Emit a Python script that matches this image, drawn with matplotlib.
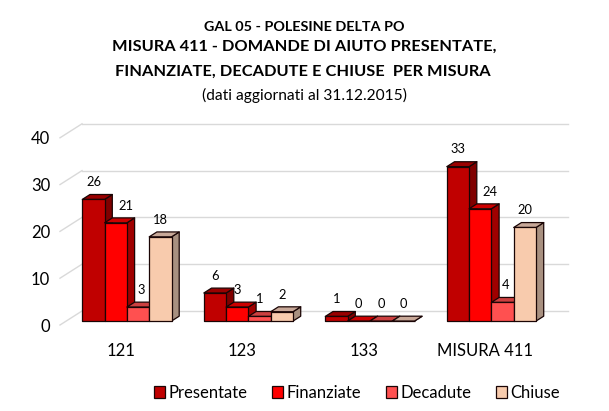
import matplotlib
matplotlib.use("Agg")
import matplotlib.pyplot as plt
from matplotlib.patches import Polygon, Rectangle, Patch
from matplotlib.lines import Line2D

categories = ["121", "123", "133", "MISURA 411"]
series_names = ["Presentate", "Finanziate", "Decadute", "Chiuse"]
presentate = [26, 6, 1, 33]
finanziate = [21, 3, 0, 24]
decadute = [3, 1, 0, 4]
chiuse = [18, 2, 0, 20]
series_values = [presentate, finanziate, decadute, chiuse]
y_ticks = [0, 10, 20, 30, 40]

title_lines = ["GAL 05 - POLESINE DELTA PO",
               "MISURA 411 - DOMANDE DI AIUTO PRESENTATE,",
               "FINANZIATE, DECADUTE E CHIUSE  PER MISURA",
               "(dati aggiornati al 31.12.2015)"]

front_cols = ["#C00000", "#FF0000", "#FF5050", "#F8CBAD"]
top_cols = ["#9A0000", "#CC0000", "#CC4040", "#C8A898"]
side_cols = ["#800000", "#A00000", "#A03030", "#A89080"]
edge = "#1A0505"

FONT = "Lato"
plt.rcParams['font.family'] = [FONT, 'DejaVu Sans']

W, H = 609, 411
fig = plt.figure(figsize=(W / 100, H / 100), dpi=100)
# front plane of the 3D box
px_left, px_right, px_y0, px_per_unit = 60, 546, 325, 4.68
ax = fig.add_axes([px_left / W, (H - px_y0) / H,
                   (px_right - px_left) / W, 40 * px_per_unit / H])
ax.set_xlim(-0.5, len(categories) - 0.5)
ax.set_ylim(0, 40)
for s in ax.spines.values():
    s.set_visible(False)

cat_px = (px_right - px_left) / len(categories)
DX = 22 / cat_px           # floor depth in data units
DY = 14 / px_per_unit
front_d, bar_d = 0.28, 0.35
bw = 22.3 / cat_px
group_w = bw * len(series_names)

grid_col = "#D9D9D9"
for v in y_ticks:
    ax.add_line(Line2D([-0.5 + DX, len(categories) - 0.5 + DX], [v + DY, v + DY],
                       color=grid_col, lw=1.0, clip_on=False, zorder=1))
    ax.add_line(Line2D([-0.5, -0.5 + DX], [v, v + DY],
                       color=grid_col, lw=1.0, clip_on=False, zorder=1))

fx, fy = front_d * DX, front_d * DY
bdx, bdy = bar_d * DX, bar_d * DY
z = 2
for i in range(len(categories)):
    for j, vals in enumerate(series_values):
        v = vals[i]
        x0 = i - group_w / 2 + j * bw + fx
        y0 = fy
        side = Polygon([(x0 + bw, y0), (x0 + bw + bdx, y0 + bdy),
                        (x0 + bw + bdx, y0 + v + bdy), (x0 + bw, y0 + v)],
                       closed=True, fc=side_cols[j], ec=edge, lw=0.9,
                       clip_on=False, zorder=z, joinstyle='round')
        top = Polygon([(x0, y0 + v), (x0 + bw, y0 + v),
                       (x0 + bw + bdx, y0 + v + bdy), (x0 + bdx, y0 + v + bdy)],
                      closed=True, fc=top_cols[j], ec=edge, lw=0.9,
                      clip_on=False, zorder=z + 0.1, joinstyle='round')
        front = Rectangle((x0, y0), bw, v, fc=front_cols[j], ec=edge, lw=0.9,
                          clip_on=False, zorder=z + 0.2, joinstyle='round')
        for p in (side, top, front):
            ax.add_patch(p)
        z += 1
        # value label (nudged right when the previous bar's side would collide)
        shift = 0
        if j > 0 and series_values[j - 1][i] - v > 4:
            shift = 10 if v >= 10 else 3
        ax.annotate(str(v), (x0 + bw / 2, y0 + v + bdy), xytext=(shift * 0.72, 4.5),
                    textcoords="offset points", ha="center", va="bottom",
                    fontsize=9.3, color="#000000", zorder=100, annotation_clip=False)

ax.set_xticks(range(len(categories)))
ax.set_xticklabels(categories, fontsize=12)
ax.tick_params(axis='x', length=0, pad=13)
ax.set_yticks(y_ticks)
ax.set_yticklabels([str(t) for t in y_ticks], fontsize=12)
ax.tick_params(axis='y', length=0, pad=7)

handles = [Patch(fc=front_cols[k], ec=edge, lw=0.9) for k in range(4)]
fig.legend(handles, series_names, loc="center", bbox_to_anchor=(0.586, 0.044),
           ncol=4, frameon=False, fontsize=12, handlelength=0.65, handleheight=0.65,
           handletextpad=0.2, columnspacing=1.5)

fig.text(0.5, 1 - 26.7 / H, title_lines[0], ha="center", va="center",
         fontsize=10.4, fontweight="bold")
fig.text(0.5, 1 - 46.7 / H, title_lines[1], ha="center", va="center",
         fontsize=11.8, fontweight="bold")
fig.text(0.497, 1 - 71.7 / H, title_lines[2], ha="center", va="center",
         fontsize=11.8, fontweight="bold")
fig.text(0.5, 1 - 95 / H, title_lines[3], ha="center", va="center",
         fontsize=11.2)

fig.savefig("out.png", dpi=100, facecolor="white")
